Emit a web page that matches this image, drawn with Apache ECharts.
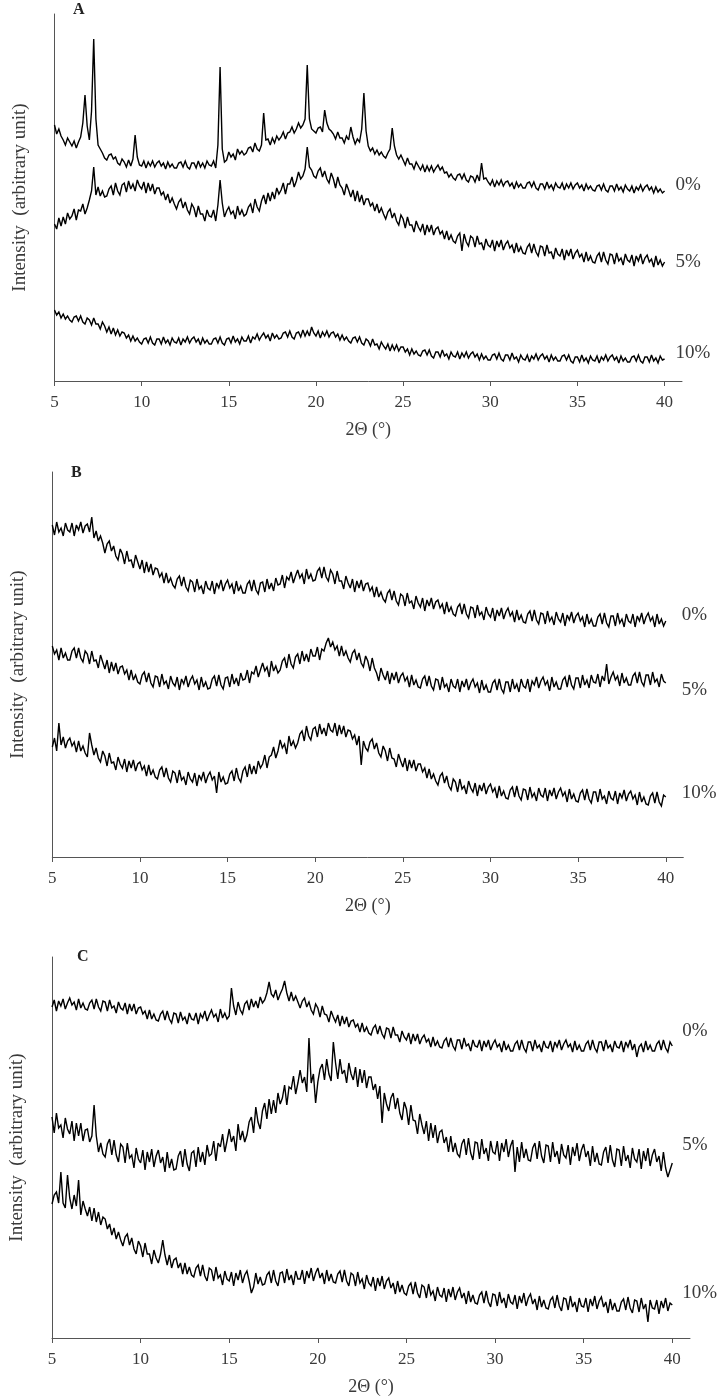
<!DOCTYPE html>
<html>
<head>
<meta charset="utf-8">
<script src="https://cdn.jsdelivr.net/npm/echarts@6/dist/echarts.min.js"></script>
<style>
  html, body { margin: 0; padding: 0; background: #fff; }
  #main { width: 721px; height: 1397px; }
</style>
</head>
<body>
<div id="main"></div>
<script>
// 2-theta grid (degrees), one row per degree, shared by every trace
var XS = [
  5, 5.125, 5.25, 5.375, 5.5, 5.625, 5.75, 5.875,
  6, 6.125, 6.25, 6.375, 6.5, 6.625, 6.75, 6.875,
  7, 7.125, 7.25, 7.375, 7.5, 7.625, 7.75, 7.875,
  8, 8.125, 8.25, 8.375, 8.5, 8.625, 8.75, 8.875,
  9, 9.125, 9.25, 9.375, 9.5, 9.625, 9.75, 9.875,
  10, 10.125, 10.25, 10.375, 10.5, 10.625, 10.75, 10.875,
  11, 11.125, 11.25, 11.375, 11.5, 11.625, 11.75, 11.875,
  12, 12.125, 12.25, 12.375, 12.5, 12.625, 12.75, 12.875,
  13, 13.125, 13.25, 13.375, 13.5, 13.625, 13.75, 13.875,
  14, 14.125, 14.25, 14.375, 14.5, 14.625, 14.75, 14.875,
  15, 15.125, 15.25, 15.375, 15.5, 15.625, 15.75, 15.875,
  16, 16.125, 16.25, 16.375, 16.5, 16.625, 16.75, 16.875,
  17, 17.125, 17.25, 17.375, 17.5, 17.625, 17.75, 17.875,
  18, 18.125, 18.25, 18.375, 18.5, 18.625, 18.75, 18.875,
  19, 19.125, 19.25, 19.375, 19.5, 19.625, 19.75, 19.875,
  20, 20.125, 20.25, 20.375, 20.5, 20.625, 20.75, 20.875,
  21, 21.125, 21.25, 21.375, 21.5, 21.625, 21.75, 21.875,
  22, 22.125, 22.25, 22.375, 22.5, 22.625, 22.75, 22.875,
  23, 23.125, 23.25, 23.375, 23.5, 23.625, 23.75, 23.875,
  24, 24.125, 24.25, 24.375, 24.5, 24.625, 24.75, 24.875,
  25, 25.125, 25.25, 25.375, 25.5, 25.625, 25.75, 25.875,
  26, 26.125, 26.25, 26.375, 26.5, 26.625, 26.75, 26.875,
  27, 27.125, 27.25, 27.375, 27.5, 27.625, 27.75, 27.875,
  28, 28.125, 28.25, 28.375, 28.5, 28.625, 28.75, 28.875,
  29, 29.125, 29.25, 29.375, 29.5, 29.625, 29.75, 29.875,
  30, 30.125, 30.25, 30.375, 30.5, 30.625, 30.75, 30.875,
  31, 31.125, 31.25, 31.375, 31.5, 31.625, 31.75, 31.875,
  32, 32.125, 32.25, 32.375, 32.5, 32.625, 32.75, 32.875,
  33, 33.125, 33.25, 33.375, 33.5, 33.625, 33.75, 33.875,
  34, 34.125, 34.25, 34.375, 34.5, 34.625, 34.75, 34.875,
  35, 35.125, 35.25, 35.375, 35.5, 35.625, 35.75, 35.875,
  36, 36.125, 36.25, 36.375, 36.5, 36.625, 36.75, 36.875,
  37, 37.125, 37.25, 37.375, 37.5, 37.625, 37.75, 37.875,
  38, 38.125, 38.25, 38.375, 38.5, 38.625, 38.75, 38.875,
  39, 39.125, 39.25, 39.375, 39.5, 39.625, 39.75, 39.875,
  40
];
var XTICKS = [5, 10, 15, 20, 25, 30, 35, 40];
var PANELS = ['A', 'B', 'C'];
var LEVELS = ['0%', '5%', '10%'];

// panel A (arbitrary units)
var A_0 = [
  256, 247, 252, 245, 241, 236, 243, 239,
  235, 240, 233, 239, 244, 258, 286, 255,
  241, 270, 342, 262, 236, 232, 228, 223,
  221, 226, 227, 222, 224, 218, 216, 222,
  219, 214, 221, 215, 222, 246, 224, 216,
  215, 220, 213, 219, 215, 220, 214, 218,
  220, 215, 218, 212, 219, 214, 217, 213,
  213, 218, 219, 214, 220, 214, 212, 218,
  218, 213, 220, 214, 218, 213, 220, 216,
  215, 220, 213, 236, 314, 232, 219, 221,
  229, 224, 227, 221, 232, 227, 230, 226,
  228, 233, 234, 229, 238, 232, 230, 236,
  268, 241, 242, 236, 243, 238, 245, 241,
  244, 249, 242, 248, 249, 254, 248, 252,
  258, 253, 256, 262, 316, 262, 252, 250,
  248, 253, 254, 249, 271, 258, 252, 250,
  247, 242, 249, 243, 243, 238, 245, 241,
  254, 244, 237, 242, 239, 252, 288, 250,
  235, 230, 233, 227, 231, 226, 229, 225,
  223, 228, 232, 253, 235, 226, 222, 226,
  221, 216, 223, 217, 217, 212, 219, 215,
  211, 216, 209, 215, 210, 215, 209, 213,
  216, 211, 214, 208, 209, 204, 207, 203,
  201, 206, 207, 202, 207, 201, 199, 205,
  204, 199, 206, 200, 218, 202, 203, 199,
  196, 201, 194, 200, 196, 201, 195, 199,
  200, 195, 198, 192, 199, 194, 197, 193,
  193, 198, 199, 194, 199, 193, 191, 197,
  197, 192, 199, 193, 196, 191, 198, 194,
  193, 198, 191, 197, 193, 198, 192, 196,
  198, 193, 196, 190, 197, 192, 195, 191,
  190, 195, 196, 191, 197, 191, 189, 195,
  195, 190, 197, 191, 194, 189, 196, 192,
  190, 195, 188, 194, 191, 196, 190, 194,
  196, 191, 194, 188, 194, 189, 192, 188,
  190
];
var A_5 = [
  157, 152, 163, 155, 164, 157, 168, 162,
  165, 172, 161, 171, 170, 177, 167, 173,
  181, 190, 214, 186, 194, 185, 190, 184,
  185, 192, 195, 186, 198, 190, 186, 196,
  198, 189, 200, 192, 197, 190, 201, 195,
  192, 199, 188, 198, 190, 197, 187, 193,
  193, 186, 189, 181, 187, 178, 183, 177,
  172, 179, 182, 173, 179, 171, 167, 177,
  173, 164, 175, 167, 167, 160, 171, 165,
  164, 171, 160, 176, 201, 178, 164, 170,
  174, 167, 170, 162, 175, 166, 171, 165,
  167, 174, 177, 168, 182, 174, 170, 180,
  186, 177, 188, 180, 189, 182, 193, 187,
  191, 198, 187, 197, 197, 204, 194, 200,
  209, 202, 205, 212, 234, 214, 211, 205,
  203, 210, 213, 204, 210, 202, 198, 208,
  202, 193, 204, 196, 193, 186, 197, 191,
  184, 191, 180, 190, 179, 186, 176, 182,
  182, 175, 178, 170, 177, 168, 173, 167,
  162, 169, 172, 163, 168, 160, 156, 166,
  162, 153, 164, 156, 156, 149, 160, 154,
  150, 157, 146, 156, 149, 156, 146, 152,
  154, 147, 150, 142, 150, 141, 146, 140,
  138, 145, 148, 130, 147, 139, 135, 145,
  143, 134, 145, 137, 138, 131, 142, 136,
  134, 141, 130, 140, 134, 141, 131, 137,
  140, 133, 136, 128, 138, 129, 134, 128,
  127, 134, 137, 128, 137, 129, 125, 135,
  134, 125, 136, 128, 129, 122, 133, 127,
  125, 132, 121, 131, 125, 132, 122, 128,
  131, 124, 127, 119, 129, 120, 125, 119,
  118, 125, 128, 119, 129, 121, 117, 127,
  126, 117, 128, 120, 123, 116, 127, 121,
  119, 126, 115, 125, 120, 127, 117, 123,
  126, 119, 122, 114, 125, 116, 121, 115,
  119
];
var A_10 = [
  71, 66, 69, 63, 67, 62, 65, 61,
  59, 64, 65, 60, 65, 59, 57, 63,
  61, 56, 63, 57, 57, 52, 59, 55,
  49, 54, 47, 53, 46, 51, 45, 49,
  48, 43, 46, 40, 45, 40, 43, 39,
  37, 42, 43, 38, 44, 38, 36, 42,
  42, 37, 44, 38, 41, 36, 43, 39,
  38, 43, 36, 42, 39, 44, 38, 42,
  44, 39, 42, 36, 43, 38, 41, 37,
  37, 42, 43, 38, 44, 38, 36, 42,
  43, 38, 45, 39, 42, 37, 44, 40,
  40, 45, 38, 44, 42, 47, 41, 45,
  48, 43, 46, 40, 48, 43, 46, 42,
  43, 48, 49, 44, 50, 44, 42, 48,
  49, 44, 51, 45, 50, 45, 54, 48,
  45, 50, 43, 49, 45, 50, 44, 48,
  49, 44, 47, 41, 46, 41, 44, 40,
  38, 43, 44, 39, 44, 38, 36, 42,
  40, 35, 42, 36, 37, 32, 39, 35,
  32, 37, 30, 36, 31, 36, 30, 34,
  34, 29, 32, 26, 32, 27, 30, 26,
  25, 30, 31, 26, 31, 25, 23, 29,
  29, 24, 31, 25, 27, 22, 29, 25,
  24, 29, 22, 28, 24, 29, 23, 27,
  29, 24, 27, 21, 27, 22, 25, 21,
  21, 26, 27, 22, 28, 22, 20, 26,
  26, 21, 28, 22, 24, 19, 26, 22,
  21, 26, 19, 25, 22, 27, 21, 25,
  27, 22, 25, 19, 26, 21, 24, 20,
  20, 25, 26, 21, 26, 20, 18, 24,
  24, 19, 26, 20, 23, 18, 25, 21,
  20, 25, 18, 24, 21, 26, 20, 24,
  26, 21, 24, 18, 25, 20, 23, 19,
  19, 24, 25, 20, 26, 20, 18, 24,
  24, 19, 26, 20, 23, 18, 25, 21,
  22
];

// panel B
var B_0 = [
  332, 322, 335, 325, 329, 321, 334, 327,
  325, 334, 321, 332, 327, 335, 324, 331,
  333, 325, 340, 319, 326, 316, 321, 314,
  304, 313, 316, 306, 311, 301, 297, 308,
  303, 293, 306, 296, 297, 289, 302, 295,
  288, 297, 284, 295, 285, 293, 282, 289,
  288, 280, 284, 274, 284, 274, 279, 272,
  269, 278, 281, 271, 280, 270, 266, 277,
  275, 265, 278, 268, 271, 263, 276, 269,
  267, 276, 263, 274, 269, 277, 266, 273,
  277, 269, 273, 263, 276, 266, 271, 264,
  264, 273, 276, 266, 277, 267, 263, 274,
  275, 265, 278, 268, 274, 266, 279, 272,
  273, 282, 269, 280, 277, 285, 274, 281,
  287, 279, 283, 273, 288, 278, 283, 276,
  277, 286, 289, 279, 290, 280, 276, 287,
  283, 273, 286, 276, 276, 268, 281, 274,
  269, 278, 265, 276, 269, 277, 266, 273,
  274, 266, 270, 260, 270, 260, 265, 258,
  255, 264, 267, 257, 266, 256, 252, 263,
  261, 251, 264, 254, 256, 248, 261, 254,
  250, 259, 246, 257, 251, 259, 248, 255,
  257, 249, 253, 243, 255, 245, 250, 243,
  241, 250, 253, 243, 253, 243, 239, 250,
  249, 239, 252, 242, 245, 237, 250, 243,
  240, 249, 236, 247, 241, 249, 238, 245,
  249, 241, 245, 235, 247, 237, 242, 235,
  234, 243, 246, 236, 247, 237, 233, 244,
  243, 233, 246, 236, 240, 232, 245, 238,
  235, 244, 231, 242, 237, 245, 234, 241,
  244, 236, 240, 230, 243, 233, 238, 231,
  231, 240, 243, 233, 244, 234, 230, 241,
  241, 231, 244, 234, 238, 230, 243, 236,
  234, 243, 230, 241, 236, 244, 233, 240,
  244, 236, 240, 230, 243, 233, 238, 231,
  236
];
var B_5 = [
  211, 203, 207, 197, 209, 199, 204, 197,
  197, 206, 209, 199, 209, 199, 195, 206,
  203, 193, 206, 196, 197, 189, 202, 195,
  188, 197, 184, 195, 186, 194, 183, 190,
  191, 183, 187, 177, 187, 177, 182, 175,
  173, 182, 185, 175, 184, 174, 170, 181,
  180, 170, 183, 173, 176, 168, 181, 174,
  171, 180, 167, 178, 173, 181, 170, 177,
  181, 173, 177, 167, 180, 170, 175, 168,
  169, 178, 181, 171, 182, 172, 168, 179,
  180, 170, 183, 173, 179, 171, 184, 177,
  178, 187, 174, 185, 183, 191, 180, 187,
  194, 186, 190, 180, 196, 186, 191, 184,
  187, 196, 199, 189, 203, 193, 189, 200,
  203, 193, 206, 196, 203, 195, 208, 201,
  201, 210, 197, 208, 206, 214, 219, 210,
  215, 207, 211, 201, 211, 201, 206, 199,
  195, 204, 207, 197, 204, 194, 190, 201,
  196, 186, 199, 189, 184, 176, 189, 182,
  177, 186, 173, 184, 177, 185, 174, 181,
  184, 176, 180, 170, 182, 172, 177, 170,
  169, 178, 181, 171, 181, 171, 167, 178,
  177, 167, 180, 170, 173, 165, 178, 171,
  169, 178, 165, 176, 170, 178, 167, 174,
  178, 170, 174, 164, 177, 167, 172, 165,
  165, 174, 177, 167, 178, 168, 164, 175,
  175, 165, 178, 168, 173, 165, 178, 171,
  169, 178, 165, 176, 172, 180, 169, 176,
  180, 172, 176, 166, 180, 170, 175, 168,
  168, 177, 180, 170, 182, 172, 168, 179,
  179, 169, 182, 172, 177, 169, 182, 175,
  174, 183, 170, 181, 176, 193, 173, 180,
  185, 177, 181, 171, 184, 174, 179, 172,
  172, 181, 184, 174, 185, 175, 171, 182,
  182, 172, 185, 175, 178, 170, 183, 176,
  174
];
var B_10 = [
  110, 119, 106, 134, 112, 120, 109, 116,
  119, 111, 115, 105, 116, 106, 111, 104,
  100, 124, 112, 102, 109, 99, 95, 106,
  101, 91, 104, 94, 95, 87, 100, 93,
  89, 98, 85, 96, 89, 97, 86, 93,
  95, 87, 91, 81, 92, 82, 87, 80,
  78, 87, 90, 80, 89, 79, 75, 86,
  84, 74, 87, 77, 80, 72, 85, 78,
  75, 84, 71, 82, 77, 85, 74, 81,
  85, 77, 81, 64, 85, 75, 80, 73,
  74, 83, 86, 76, 89, 79, 75, 86,
  90, 80, 93, 83, 91, 83, 96, 89,
  93, 102, 89, 100, 102, 110, 99, 106,
  117, 109, 113, 103, 121, 111, 116, 109,
  114, 123, 126, 116, 131, 121, 117, 128,
  130, 120, 133, 123, 129, 121, 134, 127,
  125, 134, 121, 132, 123, 131, 120, 127,
  126, 118, 122, 112, 121, 92, 116, 109,
  106, 115, 118, 108, 114, 104, 100, 111,
  106, 96, 109, 99, 98, 90, 103, 96,
  90, 99, 86, 97, 89, 97, 86, 93,
  93, 85, 89, 79, 88, 78, 83, 76,
  72, 81, 84, 74, 81, 71, 67, 78,
  75, 65, 78, 68, 71, 63, 76, 69,
  65, 74, 61, 72, 66, 74, 63, 70,
  73, 65, 69, 59, 71, 61, 66, 59,
  58, 67, 70, 60, 71, 61, 57, 68,
  67, 57, 70, 60, 64, 56, 69, 62,
  60, 69, 56, 67, 61, 69, 58, 65,
  69, 61, 65, 55, 68, 58, 63, 56,
  55, 64, 67, 57, 68, 58, 54, 65,
  65, 55, 68, 58, 61, 53, 66, 59,
  57, 66, 53, 64, 59, 67, 56, 63,
  66, 58, 62, 52, 65, 55, 60, 53,
  52, 61, 64, 54, 65, 55, 51, 62,
  60
];

// panel C
var C_0 = [
  331, 338, 327, 337, 332, 339, 329, 335,
  340, 333, 336, 328, 339, 330, 335, 329,
  328, 335, 338, 329, 339, 331, 327, 337,
  336, 327, 338, 330, 332, 325, 336, 330,
  328, 335, 324, 334, 327, 334, 324, 330,
  331, 324, 327, 319, 328, 319, 324, 318,
  317, 324, 327, 318, 327, 319, 315, 325,
  324, 315, 326, 318, 321, 314, 325, 319,
  318, 325, 314, 324, 320, 327, 317, 323,
  328, 321, 324, 316, 329, 320, 325, 319,
  322, 350, 332, 323, 336, 328, 324, 334,
  337, 328, 339, 331, 337, 330, 341, 335,
  338, 345, 356, 344, 341, 348, 338, 344,
  349, 357, 345, 337, 346, 337, 342, 336,
  330, 337, 340, 331, 336, 328, 324, 334,
  330, 321, 332, 324, 323, 316, 327, 321,
  316, 323, 312, 322, 314, 321, 311, 317,
  318, 311, 314, 306, 315, 306, 311, 305,
  303, 310, 313, 304, 312, 304, 300, 310,
  309, 300, 311, 303, 303, 296, 307, 301,
  298, 305, 294, 304, 297, 304, 294, 300,
  303, 296, 299, 291, 301, 292, 297, 291,
  290, 297, 300, 291, 300, 292, 288, 298,
  298, 289, 300, 292, 294, 287, 298, 292,
  291, 298, 287, 297, 291, 298, 288, 294,
  298, 291, 294, 286, 297, 288, 293, 287,
  287, 294, 297, 288, 298, 290, 286, 296,
  296, 287, 298, 290, 293, 286, 297, 291,
  290, 297, 286, 296, 291, 298, 288, 294,
  298, 291, 294, 286, 297, 288, 293, 287,
  287, 294, 297, 288, 298, 290, 286, 296,
  296, 287, 298, 290, 293, 286, 297, 291,
  290, 297, 286, 296, 291, 298, 288, 294,
  281, 291, 294, 286, 297, 288, 293, 287,
  287, 294, 297, 288, 298, 290, 286, 296,
  292
];
var C_5 = [
  221, 205, 225, 210, 213, 200, 220, 209,
  204, 217, 197, 215, 202, 215, 197, 208,
  209, 196, 202, 233, 202, 186, 195, 184,
  181, 194, 199, 183, 198, 183, 176, 194,
  191, 175, 195, 180, 183, 170, 190, 179,
  175, 188, 168, 186, 176, 189, 171, 182,
  188, 175, 181, 166, 186, 170, 179, 168,
  169, 182, 187, 171, 189, 174, 167, 185,
  187, 171, 191, 176, 186, 173, 193, 182,
  184, 197, 177, 195, 191, 204, 186, 197,
  209, 196, 202, 187, 214, 198, 207, 196,
  203, 216, 221, 205, 231, 216, 209, 227,
  235, 219, 239, 224, 238, 225, 245, 234,
  240, 253, 233, 251, 249, 262, 244, 255,
  268, 255, 261, 246, 300, 255, 264, 235,
  256, 269, 274, 258, 279, 264, 257, 296,
  275, 259, 279, 264, 268, 255, 275, 264,
  258, 271, 251, 269, 255, 268, 250, 261,
  261, 248, 254, 239, 252, 215, 245, 234,
  227, 240, 245, 229, 240, 225, 218, 236,
  229, 213, 233, 218, 217, 204, 224, 213,
  204, 217, 197, 215, 200, 213, 195, 206,
  208, 195, 201, 186, 202, 186, 195, 184,
  181, 194, 199, 183, 200, 185, 178, 196,
  195, 179, 199, 184, 190, 177, 197, 186,
  184, 197, 177, 195, 186, 199, 181, 192,
  198, 166, 191, 176, 196, 180, 189, 178,
  177, 190, 195, 179, 197, 182, 175, 193,
  192, 176, 196, 181, 187, 174, 194, 183,
  180, 193, 173, 191, 182, 195, 177, 188,
  194, 181, 187, 172, 192, 176, 185, 174,
  173, 186, 191, 175, 193, 178, 171, 189,
  188, 172, 192, 177, 183, 170, 190, 179,
  176, 189, 169, 187, 177, 190, 172, 183,
  189, 176, 182, 167, 186, 170, 161, 168,
  175
];
var C_10 = [
  134, 143, 146, 135, 166, 135, 130, 163,
  140, 129, 143, 132, 158, 123, 137, 129,
  122, 131, 117, 130, 116, 126, 113, 121,
  119, 109, 114, 103, 110, 99, 106, 98,
  92, 101, 104, 93, 100, 89, 84, 97,
  92, 81, 95, 84, 84, 74, 88, 80,
  75, 84, 98, 83, 73, 83, 70, 78,
  80, 70, 75, 64, 75, 64, 71, 63,
  61, 70, 73, 62, 73, 62, 57, 70,
  68, 57, 71, 60, 63, 53, 67, 59,
  57, 66, 52, 65, 58, 68, 55, 63,
  67, 57, 45, 51, 65, 54, 61, 53,
  54, 63, 66, 55, 68, 57, 52, 65,
  66, 55, 69, 58, 63, 53, 67, 59,
  59, 68, 54, 67, 60, 70, 57, 65,
  70, 60, 65, 54, 68, 57, 64, 56,
  55, 64, 67, 56, 68, 57, 52, 65,
  63, 52, 66, 55, 59, 49, 63, 55,
  52, 61, 47, 60, 52, 62, 49, 57,
  60, 50, 55, 44, 57, 46, 53, 45,
  43, 52, 55, 44, 56, 45, 40, 53,
  51, 40, 54, 43, 47, 37, 51, 43,
  41, 50, 36, 49, 41, 51, 38, 46,
  50, 40, 45, 34, 47, 36, 43, 35,
  34, 43, 46, 35, 47, 36, 31, 44,
  43, 32, 46, 35, 40, 30, 44, 36,
  34, 43, 29, 42, 35, 45, 32, 40,
  44, 34, 39, 28, 42, 31, 38, 30,
  29, 38, 41, 30, 43, 32, 27, 40,
  39, 28, 42, 31, 36, 26, 40, 32,
  31, 40, 26, 39, 32, 42, 29, 37,
  41, 31, 36, 25, 39, 28, 35, 27,
  27, 36, 39, 28, 41, 30, 25, 38,
  37, 26, 40, 29, 34, 16, 38, 30,
  29, 38, 24, 37, 30, 40, 27, 35,
  33
];

var PANEL_DATA = [[A_0, A_5, A_10], [B_0, B_5, B_10], [C_0, C_5, C_10]];

var chartDom = document.getElementById('main');
var myChart = echarts.init(chartDom, null, { renderer: 'canvas' });

var FONT = '"Liberation Serif", "Times New Roman", serif';
var TEXT = '#3a3a3a';
var AXIS = '#555';

// plot boxes, panel-letter spots and end-label nudges for the three stacked panels
var grids = [
  { left: 54.5, top: 14, width: 627.5, height: 367 },
  { left: 52.3, top: 472, width: 631, height: 385 },
  { left: 46.7, top: 957, width: 643.3, height: 381 }
];
var letterPos = [[73, 2], [71, 465], [77, 949]];
var labelGap = [11, 16, 10];
var labelDy = [[-6, 0, -6], [-6, 7, -4], [-15, -18, -12]];

var option = {
  animation: false,
  title: [],
  grid: grids,
  xAxis: [],
  yAxis: [],
  series: []
};

grids.forEach(function (g, p) {
  option.title.push({
    text: PANELS[p],
    left: letterPos[p][0],
    top: letterPos[p][1],
    padding: 0,
    textStyle: { fontFamily: FONT, fontSize: 16, fontWeight: 'bold', color: '#222' }
  });
  option.xAxis.push({
    type: 'value',
    gridIndex: p,
    min: 5,
    max: 41,
    interval: 5,
    name: '2Θ (°)',
    nameLocation: 'middle',
    nameGap: 40,
    nameTextStyle: { fontFamily: FONT, fontSize: 18, color: TEXT },
    axisLine: { lineStyle: { color: AXIS, width: 1 } },
    axisTick: { show: true, length: 5, customValues: XTICKS, lineStyle: { color: AXIS } },
    axisLabel: { customValues: XTICKS, margin: 13, fontFamily: FONT, fontSize: 17, color: TEXT },
    splitLine: { show: false }
  });
  option.yAxis.push({
    type: 'value',
    gridIndex: p,
    min: 0,
    max: g.height,
    name: 'Intensity  (arbitrary unit)',
    nameLocation: 'middle',
    nameGap: 25,
    nameTextStyle: { fontFamily: FONT, fontSize: 19, color: TEXT },
    axisLine: { show: true, lineStyle: { color: AXIS, width: 1 } },
    axisTick: { show: false },
    axisLabel: { show: false },
    splitLine: { show: false }
  });
  PANEL_DATA[p].forEach(function (vals, k) {
    option.series.push({
      name: LEVELS[k],
      type: 'line',
      xAxisIndex: p,
      yAxisIndex: p,
      data: XS.map(function (x, i) { return [x, vals[i]]; }),
      showSymbol: false,
      symbol: 'none',
      sampling: null,
      silent: true,
      lineStyle: { color: '#000', width: 1.4, join: 'miter', miterLimit: 3 },
      endLabel: {
        show: true,
        formatter: LEVELS[k],
        distance: labelGap[p],
        offset: [0, labelDy[p][k]],
        fontFamily: FONT,
        fontSize: 19,
        color: TEXT
      }
    });
  });
});

option && myChart.setOption(option);
</script>
</body>
</html>
